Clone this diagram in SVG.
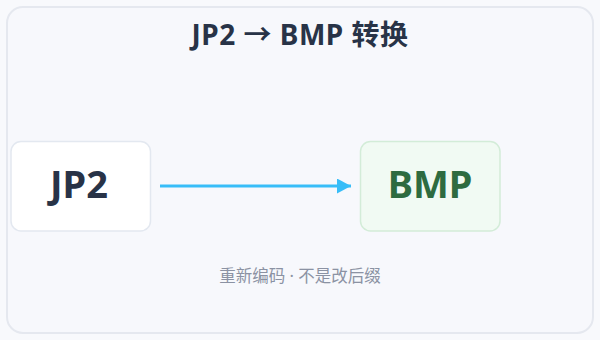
<svg xmlns="http://www.w3.org/2000/svg" width="600" height="340" viewBox="0 0 600 340">
  <defs>
    <marker id="ah" markerWidth="14" markerHeight="15" refX="14" refY="7.5" orient="auto" markerUnits="userSpaceOnUse">
      <path d="M0,0 L14,7.5 L0,15 Z" fill="#38bdf8"/>
    </marker>
  </defs>
  <style>
    .t { font-family: "Noto Sans", "Noto Sans CJK SC", sans-serif; }
    .title { font-size: 28px; font-weight: 700; fill: #283347; letter-spacing: 0.5px; }
    .lbl { font-size: 38px; font-weight: 700; text-anchor: middle; }
    .sub { font-size: 16.5px; fill: #8b92a3; }
  </style>
  <rect width="600" height="340" fill="#f8f9fc"/>
  <rect x="7" y="7" width="586" height="326" rx="16" fill="#f7f8fc" stroke="#e5e8ef" stroke-width="2"/>
  <text class="t title" x="300" y="45" text-anchor="middle">JP2 → BMP 转换</text>
  <g id="jp2">
    <rect x="11" y="141.5" width="139.5" height="89.5" rx="10" fill="#ffffff" stroke="#e3e8f0" stroke-width="1.5"/>
    <text class="t lbl" x="79" y="198" fill="#283347">JP2</text>
  </g>
  <g id="bmp">
    <rect x="360.5" y="141.5" width="139.5" height="89.5" rx="10" fill="#f1faf3" stroke="#d3ecd8" stroke-width="1.5"/>
    <text class="t lbl" x="430" y="198" fill="#2e6b40">BMP</text>
  </g>
  <g id="connectors">
    <line x1="160" y1="186" x2="351" y2="186" stroke="#38bdf8" stroke-width="3" marker-end="url(#ah)"/>
  </g>
  <text class="t sub" x="300" y="282" text-anchor="middle">重新编码 · 不是改后缀</text>
</svg>
